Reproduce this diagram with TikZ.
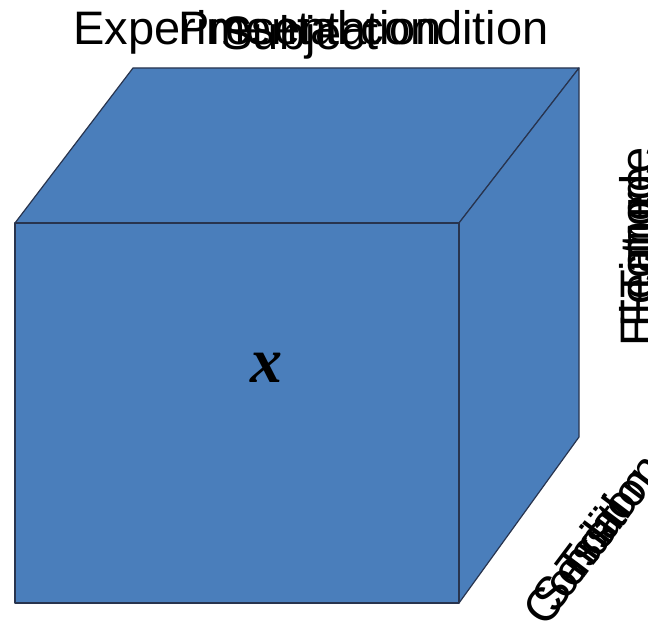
\documentclass[tikz,border=0pt]{standalone}
\usepackage{fontspec}
\setmainfont{Liberation Sans}
\newfontfamily\varfont{Liberation Serif}
\usetikzlibrary{positioning}

\definecolor{cubefill}{RGB}{74,126,187}
\definecolor{cubeedge}{RGB}{40,52,78}

\begin{document}
\begin{tikzpicture}[
    x=1pt, y=1pt,
    face/.style={fill=cubefill, draw=cubeedge, line width=1.2pt, line join=round},
    axislabel/.style={font=\fontsize{47}{50}\selectfont, inner sep=0pt, anchor=base},
    varlabel/.style={font=\varfont\fontsize{64}{64}\selectfont\bfseries\itshape, inner sep=0pt},
]
\useasboundingbox (0,0) rectangle (648,627);

% =====================  CUBE  =====================
\coordinate (ftl) at (15,404);
\coordinate (ftr) at (459,404);
\coordinate (fbr) at (459,24);
\coordinate (fbl) at (15,24);
\coordinate (btl) at (133,559);
\coordinate (btr) at (579,559);
\coordinate (bbr) at (579,190);

\draw[face] (ftl) -- (btl) -- (btr) -- (ftr) -- cycle;
\draw[face] (ftr) -- (btr) -- (bbr) -- (fbr) -- cycle;
\draw[face] (ftl) -- (ftr) -- (fbr) -- (fbl) -- cycle;

\node[varlabel] (data) at (266,259) {x};

% =====================  TOP AXIS  =====================
\node[axislabel] (cond)    at (311,582) {Experimental condition};
\node[axislabel] (pres)    at (310,582) {Presentation};
\node[axislabel] (subject) at (300,577) {Subject};

% =====================  RIGHT AXIS  =====================
\node[axislabel, rotate=90] (electrode) at (653,380) {Electrode};
\node[axislabel, rotate=90] (feature)   at (653,380) {Feature};
\node[axislabel, rotate=90] (timeax)    at (653,380) {Time};

% =====================  DEPTH AXIS  =====================
\node[axislabel, rotate=53] (dcond)   at (606,78) {Condition};
\node[axislabel, rotate=53] (session) at (606,78) {Session};
\node[axislabel, rotate=53] (trial)   at (606,78) {Trial};

\end{tikzpicture}
\end{document}
